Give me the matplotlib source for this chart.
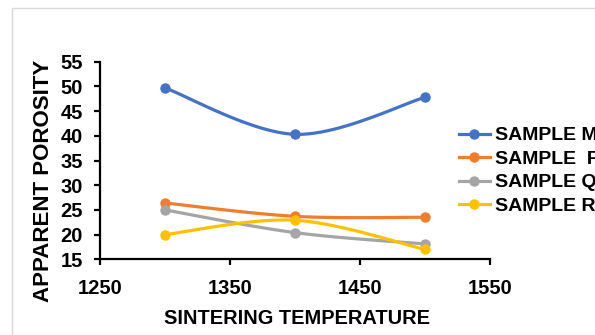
import numpy as np
import matplotlib
matplotlib.use("Agg")
import matplotlib.pyplot as plt
from matplotlib.patches import Rectangle

plt.rcParams["font.family"] = ["Liberation Sans", "DejaVu Sans"]
plt.rcParams["font.weight"] = "bold"

temps = [1300, 1400, 1500]
sample_m = [49.7, 40.3, 47.8]
sample_p = [26.4, 23.7, 23.5]
sample_q = [25.0, 20.4, 18.1]
sample_r = [20.0, 22.9, 17.0]

labels = ["SAMPLE M", "SAMPLE  P", "SAMPLE Q", "SAMPLE R"]
colors = ["#4472C4", "#ED7D31", "#A5A5A5", "#FFC000"]


def smooth_curve(xs, ys, n=40):
    # Catmull-Rom style cubic Bezier through the points (like a spreadsheet "smoothed line")
    p = np.column_stack([xs, ys]).astype(float)
    ext = np.vstack([p[0], p, p[-1]])
    out = []
    t = np.linspace(0, 1, n)[:, None]
    for i in range(len(p) - 1):
        p0, p1, p2, p3 = ext[i], ext[i + 1], ext[i + 2], ext[i + 3]
        c1 = p1 + (p2 - p0) / 6.0
        c2 = p2 - (p3 - p1) / 6.0
        seg = ((1 - t) ** 3) * p1 + 3 * ((1 - t) ** 2) * t * c1 + 3 * (1 - t) * t ** 2 * c2 + t ** 3 * p2
        out.append(seg if i == 0 else seg[1:])
    out = np.vstack(out)
    return out[:, 0], out[:, 1]


fig = plt.figure(figsize=(5.95, 3.35), dpi=100)
fig.patches.append(Rectangle((12 / 595, -0.1), 1.0, 1 - 8 / 335 + 0.1,
                             transform=fig.transFigure, fill=False,
                             edgecolor="#D9D9D9", linewidth=1.0))

ax = fig.add_axes([100 / 595, 1 - 259.3 / 335, 390 / 595, (259.3 - 61.7) / 335])

for ys, lab, col in zip([sample_m, sample_p, sample_q, sample_r], labels, colors):
    sx, sy = smooth_curve(temps, ys)
    ax.plot(sx, sy, color=col, linewidth=2.3, solid_capstyle="round")
    ax.plot(temps, ys, linestyle="none", marker="o", markersize=6.5, color=col)
    ax.plot([], [], color=col, linewidth=2.3, marker="o", markersize=6.5, label=lab)

ax.set_xlim(1250, 1550)
ax.set_ylim(15, 55)
ax.set_xticks([1250, 1350, 1450, 1550])
ax.set_yticks(np.arange(15, 56, 5))
for s in ["top", "right"]:
    ax.spines[s].set_visible(False)
for s in ["left", "bottom"]:
    ax.spines[s].set_linewidth(1.6)
ax.tick_params(axis="both", direction="out", length=4.3, width=1.6, labelsize=14.5)
ax.tick_params(axis="x", pad=10)
ax.tick_params(axis="y", pad=8)
for lbl in ax.get_xticklabels() + ax.get_yticklabels():
    lbl.set_fontweight("bold")

fig.text(297 / 595, 1 - 319 / 335, "SINTERING TEMPERATURE", ha="center", va="center",
         fontsize=14.4, fontweight="bold")
fig.text(44 / 595, 1 - 181 / 335, "APPARENT POROSITY", ha="center", va="center",
         rotation=90, fontsize=16, fontweight="bold")

fig.legend(loc="upper left", bbox_to_anchor=(455 / 595, 1 - 123 / 335), frameon=False,
           prop={"weight": "bold", "size": 14}, handlelength=1.6,
           handletextpad=0.25, labelspacing=0.3, borderaxespad=0, borderpad=0.2)

fig.savefig("out.png", dpi=100)
